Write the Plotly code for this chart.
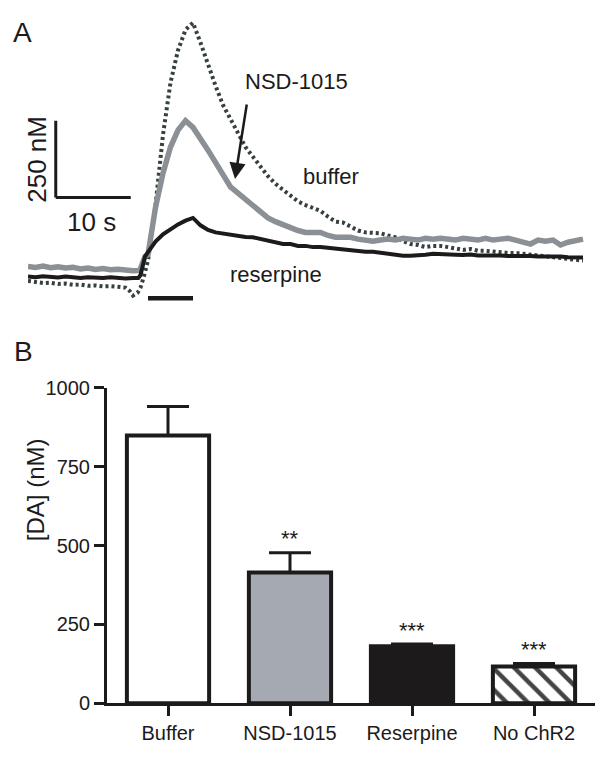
import plotly.graph_objects as go

# ---------------- Panel A data (time in s, concentration in nM) ----------------
buf_t = [0, 1, 2, 3, 4, 5, 6, 7, 8, 9, 10, 11, 12, 13, 13.6, 14.0, 14.6, 15.0, 15.5] + list(range(16, 75))
buf_c = [-6, -10, -13, -12, -16, -15, -19, -18, -22, -21, -24, -23, -26, -28,
         -40, -54, -45, -28, 13,
         60, 240, 470, 640, 745, 812, 835,
         770, 695, 630, 567, 521, 480, 430, 398, 365,
         335, 310, 291, 269, 253, 241, 231, 222, 203, 187,
         184, 171, 158, 152, 152, 149, 142, 136, 123, 114,
         111, 104, 108, 108, 104, 98, 95, 98,
         92, 92, 89, 89, 85, 85, 82, 79, 79, 76, 73, 70, 66, 63, 60]

nsd_t = [0, 1, 2, 3, 4, 5, 6, 7, 8, 9, 10, 11, 12, 13, 14, 14.9, 15.3, 15.6] + list(range(16, 75))
nsd_c = [41, 38, 42, 37, 40, 36, 38, 33, 36, 31, 34, 30, 32, 28, 27,
         28, 57, 73,
         80, 233, 345, 430, 485, 516, 494, 460, 420, 380, 340,
         300, 280, 260, 240, 222, 199, 187, 177, 171, 158,
         152, 152, 152, 142, 136, 136, 136, 130, 127, 123,
         127, 130, 127, 133, 130, 127, 133, 130, 133, 130, 127, 133, 130, 127,
         133, 127, 130, 133, 127, 120, 114, 127, 123, 127, 111, 120, 127, 130]

res_t = [0, 1, 2, 3, 4, 5, 6, 7, 8, 9, 10, 11, 12, 13, 14, 14.7, 15.0, 15.3, 15.6] + list(range(16, 75))
res_c = [8, 6, 9, 6, 5, 8, 6, 3, 6, 5, 3, 6, 3, 2, 3,
         3, 13, 51, 73,
         88, 122, 146, 163, 178, 190, 199,
         175, 160, 152, 148, 146, 139, 137, 136,
         130, 125, 120, 114, 114, 108, 108, 104, 104, 101,
         98, 95, 92, 92, 89, 89, 85, 82, 79, 76, 76, 76, 79,
         82, 80, 81, 79, 78, 80, 77, 78, 76, 77, 75, 76, 74, 75, 73, 74, 72, 73, 71, 72, 70]

scale_t0, scale_c0 = 3.7, 266      # corner of the scale bar
scale_dt, scale_dc = 10, 250       # 10 s, 250 nM
stim_on, stim_off, stim_c = 16, 22, -63

# ---------------- Panel B data ----------------
categories = ["Buffer", "NSD-1015", "Reserpine", "No ChR2"]
da_mean = [849, 415, 181, 117]
da_sem = [92, 62, 7, 9]
significance = ["", "**", "***", "***"]
y_ticks = [0, 250, 500, 750, 1000]

FONT = "Liberation Sans, Arial, Helvetica, sans-serif"
INK = "#1c1a1b"

W, H = 604, 760


def px_x(px):
    return px / W


def px_y(py):
    return 1 - py / H


fig = go.Figure()

fig.add_trace(go.Scatter(x=buf_t, y=buf_c, xaxis="x2", yaxis="y2", mode="lines",
                         line=dict(color="#36413e", width=4, dash="3px,3px")))
fig.add_trace(go.Scatter(x=nsd_t, y=nsd_c, xaxis="x2", yaxis="y2", mode="lines",
                         line=dict(color="#8a9095", width=5.5)))
fig.add_trace(go.Scatter(x=res_t, y=res_c, xaxis="x2", yaxis="y2", mode="lines",
                         line=dict(color=INK, width=4)))

fig.add_trace(go.Bar(
    x=categories, y=da_mean, width=0.674,
    marker=dict(color=["white", "#a5aab2", INK, "white"],
                line=dict(color=INK, width=4),
                pattern=dict(shape=["", "", "", "\\"], fgcolor=INK, bgcolor="white",
                             fgopacity=1, size=15, solidity=0.3)),
    error_y=dict(type="data", symmetric=False, array=da_sem, arrayminus=[0] * len(da_sem),
                 color=INK, thickness=3, width=21),
))

annotations = []
for c, m, s, sig in zip(categories, da_mean, da_sem, significance):
    if sig:
        annotations.append(dict(x=c, y=m + s, xref="x", yref="y", text=sig, showarrow=False,
                                yanchor="middle", yshift=14, font=dict(size=22, color=INK)))

for txt, (px, py), size in [("A", (22, 22), 28), ("B", (23, 351), 28),
                            ("NSD-1015", (296, 73), 22), ("buffer", (331, 170), 22),
                            ("reserpine", (276, 271), 22)]:
    annotations.append(dict(x=px_x(px), y=px_y(py), xref="paper", yref="paper", text=txt,
                            showarrow=False, xanchor="center", yanchor="middle",
                            font=dict(size=size, color=INK)))

annotations.append(dict(x=px_x(20), y=px_y(548), xref="paper", yref="paper", text="[DA] (nM)",
                        showarrow=False, textangle=-90, font=dict(size=24, color=INK)))

# arrow pointing to NSD-1015 trace
annotations.append(dict(x=27.6, y=326, xref="x2", yref="y2", ax=12, ay=-76, text="",
                        showarrow=True, arrowhead=2, arrowsize=1.3, arrowwidth=2.5, arrowcolor=INK))

# scale bar labels
annotations.append(dict(x=scale_t0 + scale_dt / 2, y=scale_c0, xref="x2", yref="y2", text="10 s",
                        showarrow=False, yshift=-25, xshift=-2, font=dict(size=26, color=INK)))
annotations.append(dict(x=scale_t0, y=scale_c0 + scale_dc / 2, xref="x2", yref="y2", text="250 nM",
                        showarrow=False, xshift=-19, textangle=-90, font=dict(size=26, color=INK)))

shapes = [
    dict(type="line", xref="x2", yref="y2", x0=scale_t0, x1=scale_t0, y0=scale_c0, y1=scale_c0 + scale_dc,
         line=dict(color=INK, width=3)),
    dict(type="line", xref="x2", yref="y2", x0=scale_t0, x1=scale_t0 + scale_dt, y0=scale_c0, y1=scale_c0,
         line=dict(color=INK, width=3)),
    dict(type="line", xref="x2", yref="y2", x0=stim_on, x1=stim_off, y0=stim_c, y1=stim_c,
         line=dict(color=INK, width=4.5)),
]

axis_common = dict(showline=True, linecolor=INK, linewidth=3, ticks="outside", ticklen=10,
                   tickwidth=3, tickcolor=INK, showgrid=False, zeroline=False,
                   tickfont=dict(size=20, color=INK, family=FONT))

fig.update_layout(
    width=W, height=H, margin=dict(l=0, r=0, t=0, b=0),
    paper_bgcolor="white", plot_bgcolor="white", showlegend=False,
    font=dict(family=FONT, color=INK),
    xaxis=dict(domain=[px_x(107), px_x(595)], range=[-0.5, 3.5], anchor="y", **axis_common),
    yaxis=dict(domain=[px_y(713), px_y(388)], range=[0, 1000], anchor="x",
               tickvals=y_ticks, **axis_common),
    xaxis2=dict(domain=[px_x(28), px_x(585)], range=[0, 557 / 7.5], anchor="y2", visible=False),
    yaxis2=dict(domain=[px_y(301.3), px_y(4.2)], range=[-80, 860], anchor="x2", visible=False),
    annotations=annotations, shapes=shapes,
)

fig.write_html("out.html", config={"displayModeBar": False},
               post_script="document.body.style.margin='0px';document.body.style.overflow='hidden';")
